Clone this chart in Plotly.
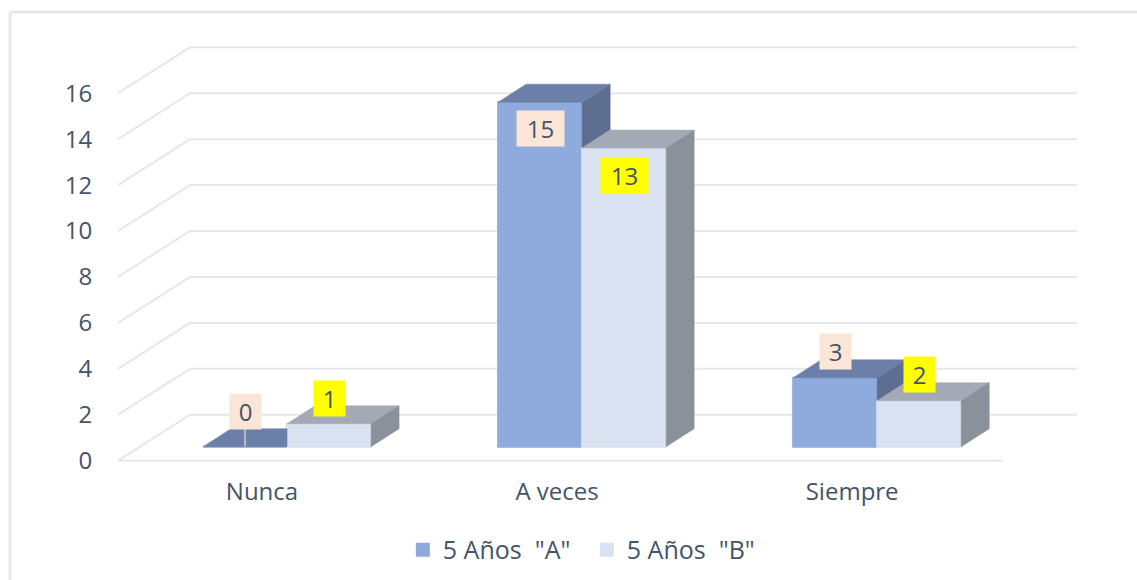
import plotly.graph_objects as go

categorias = ['Nunca', 'A veces', 'Siempre']
serie_a = [0, 15, 3]
serie_b = [1, 13, 2]
nombre_a = '5 Años\u00a0\u00a0"A"'
nombre_b = '5 Años\u00a0\u00a0"B"'
ticks_y = [0, 2, 4, 6, 8, 10, 12, 14, 16]

# desplazamiento vertical (px) de cada etiqueta respecto a la cara frontal
shift_a = [35, -26, 26]
shift_b = [25, -27, 26]

# "profundidad" falsa del 3D, en unidades de los ejes
PARED_X, PARED_Y = 0.244, 2.0
BASE = 0.61
PROF_X, PROF_Y = 0.095, 0.784
ANCHO = 0.2847
CORTE = 0.0729

AZUL, AZUL_TOP, AZUL_LADO = '#8faadc', '#6b7fa8', '#5d6e90'
CLARO, CLARO_TOP, CLARO_LADO = '#dae1f1', '#a3aab5', '#8a919b'
GRID = '#e4e7ef'
TEXTO = '#44546a'
FUENTE = 'Open Sans'
X_MIN, X_MAX = -0.5, 2.75

fig = go.Figure()


def cara(xs, ys, color):
    fig.add_trace(go.Scatter(x=xs + xs[:1], y=ys + ys[:1], mode='lines', fill='toself', fillcolor=color,
                             line=dict(color=color, width=0.5), hoverinfo='skip', showlegend=False))


pos = list(range(len(categorias)))
x_a = [p + CORTE - ANCHO / 2 for p in pos]
x_b = [p + CORTE + ANCHO / 2 for p in pos]

fig.add_trace(go.Bar(x=x_a, y=serie_a, base=BASE, width=ANCHO, name=nombre_a, marker=dict(color=AZUL, line=dict(color=AZUL, width=2))))
fig.add_trace(go.Bar(x=x_b, y=serie_b, base=BASE, width=ANCHO, name=nombre_b, marker=dict(color=CLARO, line=dict(color=CLARO, width=2))))

for p, a, b, xa, xb in zip(pos, serie_a, serie_b, x_a, x_b):
    izq, med, der = xa - ANCHO / 2, xa + ANCHO / 2, xb + ANCHO / 2
    ya, yb = a + BASE, b + BASE
    # lado de A: solo lo que la barra B deja a la vista
    if a > b:
        cara([med, med + PROF_X, med + PROF_X, med], [ya, ya + PROF_Y, yb + PROF_Y, yb], AZUL_LADO)
        cara([izq, med, med + PROF_X, izq + PROF_X], [ya, ya, ya + PROF_Y, ya + PROF_Y], AZUL_TOP)
    else:
        cara([izq, med, med, izq + PROF_X], [ya, ya, ya + PROF_Y, ya + PROF_Y], AZUL_TOP)
    cara([med, der, der + PROF_X, med + PROF_X], [yb, yb, yb + PROF_Y, yb + PROF_Y], CLARO_TOP)
    cara([der, der + PROF_X, der + PROF_X, der], [yb, yb + PROF_Y, BASE + PROF_Y, BASE], CLARO_LADO)

# línea guía de la etiqueta 0
fig.add_trace(go.Scatter(x=[x_a[0], x_a[0]], y=[BASE, BASE + PROF_Y], mode='lines', line=dict(color='#b4bccb', width=2),
                         hoverinfo='skip', showlegend=False))

for valores, xs, shifts, fondo in [(serie_a, x_a, shift_a, '#fbe5d6'), (serie_b, x_b, shift_b, '#ffff00')]:
    for v, x, s in zip(valores, xs, shifts):
        fig.add_annotation(x=x, y=v + BASE, yshift=s, text=str(v), showarrow=False, bgcolor=fondo,
                           width=45 if v > 9 else 29, height=33, font=dict(family=FUENTE, size=24, color=TEXTO))

# paredes: líneas de fondo y diagonales
formas = []
for t in ticks_y:
    formas.append(dict(x0=X_MIN, x1=X_MIN + PARED_X, y0=t, y1=t + PARED_Y))
    formas.append(dict(x0=X_MIN + PARED_X, x1=X_MAX, y0=t + PARED_Y, y1=t + PARED_Y))
formas.append(dict(x0=X_MIN, x1=len(categorias) - 0.5, y0=0, y1=0))
for f in formas:
    fig.add_shape(type='line', xref='x', yref='y', layer='below', line=dict(color=GRID, width=2), **f)

# marco: solo arriba y a la izquierda
fig.add_shape(type='line', xref='paper', yref='paper', x0=-108 / 959, x1=1.07, y0=1 + 33 / 418, y1=1 + 33 / 418,
              line=dict(color=GRID, width=3))
fig.add_shape(type='line', xref='paper', yref='paper', x0=-108 / 959, x1=-108 / 959, y0=-0.3, y1=1 + 33 / 418,
              line=dict(color=GRID, width=3))

fig.update_layout(
    width=1137,
    height=580,
    margin=dict(l=118, r=60, t=45, b=117, autoexpand=False),
    barmode='overlay',
    plot_bgcolor='white',
    paper_bgcolor='white',
    font=dict(family=FUENTE, size=24, color=TEXTO),
    xaxis=dict(range=[X_MIN, X_MAX], tickvals=[p - 0.012 for p in pos], ticktext=categorias, showgrid=False, zeroline=False,
               showline=False, ticks='outside', ticklen=7, tickcolor='rgba(0,0,0,0)'),
    yaxis=dict(range=[-0.1, 18.1], tickvals=ticks_y, showgrid=False, zeroline=False, showline=False,
               ticks='outside', ticklen=20, tickcolor='rgba(0,0,0,0)'),
    legend=dict(orientation='h', x=0.297, xanchor='left', y=-0.153, yanchor='top', entrywidth=139, entrywidthmode='pixels',
                font=dict(family=FUENTE, size=25, color=TEXTO)),
)

# sin el margen de 8 px del body
fig.write_html("out.html", config={'displayModeBar': False}, post_script="document.body.style.margin = '0';")
